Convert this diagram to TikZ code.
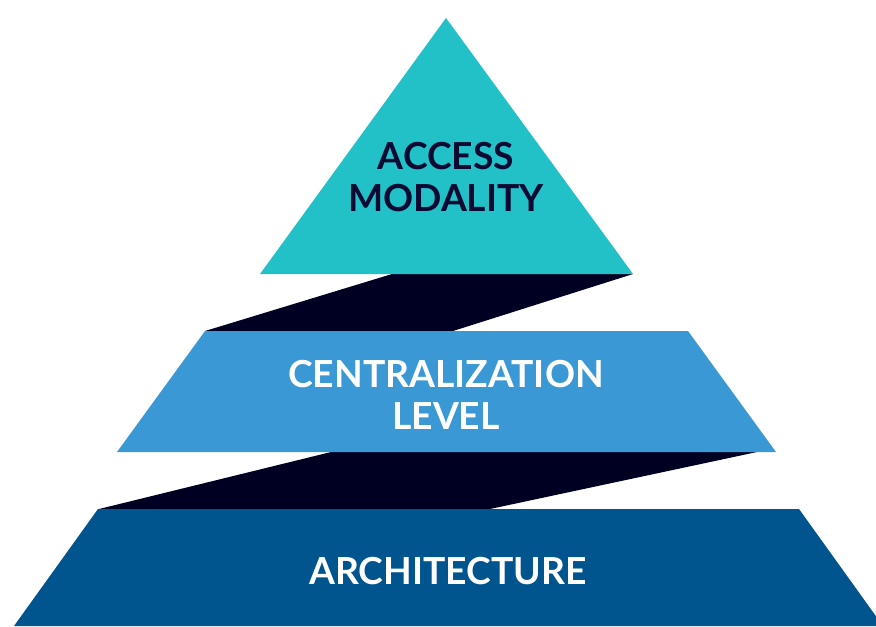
\documentclass[tikz,border=0pt]{standalone}
\usepackage{fontspec}
\setmainfont{Lato}
\definecolor{teal1}{HTML}{22C1C8}
\definecolor{blue1}{HTML}{3A98D5}
\definecolor{blue2}{HTML}{00558F}
\definecolor{ink}{HTML}{000022}
\definecolor{navytext}{HTML}{0A0A33}
\tikzset{label/.style={align=center,font=\bfseries\fontsize{10.6}{12}\selectfont}}
\begin{document}
\begin{tikzpicture}
        \useasboundingbox (0,0) rectangle (8.76,6.26);
        \clip (0,0) rectangle (8.76,6.26);

        \fill[ink] (3.92,3.52) -- (6.33,3.52) -- (4.53,2.95) -- (2.05,2.95) -- cycle;
        \fill[ink] (3.31,1.74) -- (7.57,1.74) -- (4.90,1.17) -- (0.99,1.17) -- cycle;

        \fill[teal1] (4.46,6.08) -- (6.33,3.52) -- (2.60,3.52) -- cycle;
        \fill[blue1] (2.05,2.95) -- (6.88,2.95) -- (7.76,1.74) -- (1.17,1.74) -- cycle;
        \fill[blue2] (0.98,1.17) -- (7.99,1.17) -- (8.83,0) -- (0.14,0) -- cycle;

        \node[label,text=navytext] (top) at (4.46,4.49){ACCESS\\MODALITY};
        \node[label,text=white] (mid) at (4.46,2.31){CENTRALIZATION\\LEVEL};
        \node[label,text=white] (base) at (4.48,0.55){ARCHITECTURE};
    \end{tikzpicture}
\end{document}
